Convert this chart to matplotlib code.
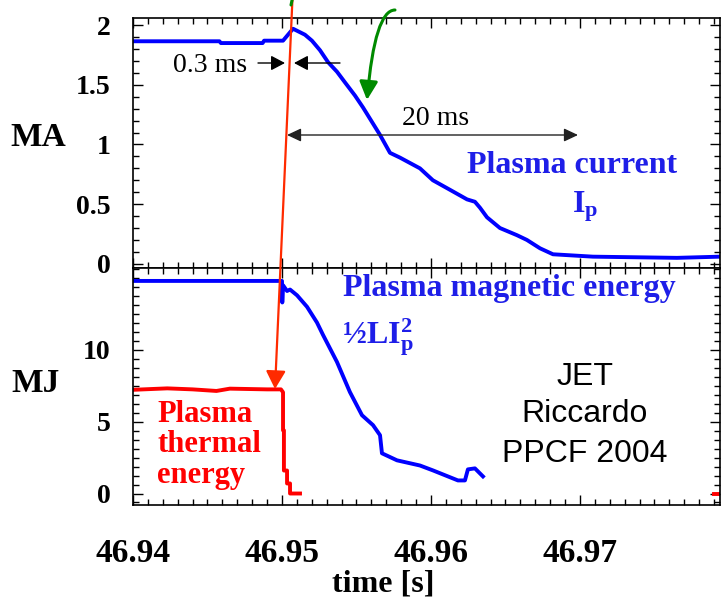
import matplotlib
matplotlib.use("Agg")
import matplotlib.pyplot as plt
from matplotlib.patches import FancyArrowPatch
from matplotlib.ticker import MultipleLocator

W, H = 722, 606

# plasma current Ip [MA]
ip_t = [46.9400, 46.9458, 46.9459, 46.9487, 46.9488, 46.95007, 46.95074, 46.95154,
        46.95201, 46.95255, 46.95309, 46.95369, 46.95423, 46.95490, 46.95544, 46.95658,
        46.95725, 46.95792, 46.95926, 46.96013, 46.96128, 46.96242, 46.96295, 46.96329,
        46.96376, 46.96463, 46.96577, 46.96644, 46.96732, 46.96819, 46.96953, 46.97087,
        46.97651, 46.97940]
ip = [1.865, 1.865, 1.85, 1.85, 1.87, 1.87, 1.97, 1.92,
      1.87, 1.79, 1.69, 1.61, 1.52, 1.41, 1.31, 1.08,
      0.93, 0.89, 0.80, 0.70, 0.62, 0.54, 0.52, 0.47,
      0.39, 0.30, 0.24, 0.20, 0.13, 0.08, 0.07, 0.06,
      0.05, 0.06]

# plasma magnetic energy [MJ]
wm_t = [46.9400, 46.9500, 46.95002, 46.95007, 46.95034, 46.95054, 46.95101, 46.95168,
        46.95235, 46.95275, 46.95369, 46.95456, 46.95537, 46.95611, 46.95658, 46.95671,
        46.95772, 46.95926, 46.96013, 46.96181, 46.96228, 46.96248, 46.96295, 46.96349]
wm = [14.8, 14.8, 13.3, 14.5, 14.1, 14.2, 13.8, 13.0,
      11.9, 11.05, 9.16, 7.06, 5.45, 4.76, 4.06, 2.80,
      2.31, 1.95, 1.61, 0.91, 0.91, 1.68, 1.75, 1.19]

# plasma thermal energy [MJ]
wth_t = [46.9400, 46.9423, 46.9440, 46.9456, 46.9465, 46.9490, 46.94993, 46.95007,
         46.95007, 46.95013, 46.95013, 46.95034, 46.95034, 46.95054, 46.95054, 46.95121]
wth = [7.22, 7.32, 7.25, 7.14, 7.30, 7.25, 7.25, 7.05,
       4.40, 4.40, 1.60, 1.60, 0.70, 0.70, 0.00, 0.00]
wth_end_t = [46.9790, 46.9794]
wth_end = [0.0, 0.0]

x_ticks = [46.94, 46.95, 46.96, 46.97]
x_labels = ["46.94", "46.95", "46.96", "46.97"]
ma_ticks = [0, 0.5, 1, 1.5, 2]
ma_labels = ["0", "0.5", "1", "1.5", "2"]
mj_ticks = [0, 5, 10]
mj_labels = ["0", "5", "10"]

plt.rcParams["font.family"] = ["Liberation Serif", "DejaVu Serif"]
plt.rcParams["mathtext.fontset"] = "custom"
plt.rcParams["mathtext.rm"] = "Liberation Serif:bold"
plt.rcParams["mathtext.it"] = "Liberation Serif:bold"
plt.rcParams["mathtext.bf"] = "Liberation Serif:bold"

BLUE = "#0000ff"
TBLUE = "#1e1ee8"
RED = "#ff0000"


def P(x, y):
    # figure pixel (from top-left) -> figure fraction
    return (x / W, 1 - y / H)


fig = plt.figure(figsize=(W / 100, H / 100), dpi=100)
ax1 = fig.add_axes([133 / W, 1 - 268 / H, 587 / W, 250 / H])
ax2 = fig.add_axes([133 / W, 1 - 505 / H, 587 / W, 237 / H], sharex=ax1)

ax1.plot(ip_t, ip, color=BLUE, lw=2.8)
ax2.plot(wm_t, wm, color=BLUE, lw=2.8)
ax2.plot(wth_t, wth, color=RED, lw=2.8)
ax2.plot(wth_end_t, wth_end, color=RED, lw=2.8)

ax1.set_xlim(46.94, 46.9794)
ax1.set_ylim(-0.035, 2.06)
ax2.set_ylim(-0.8, 15.7)

for ax in (ax1, ax2):
    for s in ax.spines.values():
        s.set_linewidth(1.2)
    ax.tick_params(which="both", direction="in", top=True, right=True, width=1.0)
    ax.tick_params(which="major", length=7)
    ax.tick_params(which="minor", length=4)
    ax.xaxis.set_minor_locator(MultipleLocator(0.001))

ax1.set_yticks(ma_ticks, ma_labels)
ax1.yaxis.set_minor_locator(MultipleLocator(0.1))
ax2.set_yticks(mj_ticks, mj_labels)
ax2.yaxis.set_minor_locator(MultipleLocator(0.625))
ax1.set_xticks(x_ticks)
ax1.tick_params(axis="x", labelbottom=False)
ax2.set_xticks(x_ticks, x_labels)

for lab in ax1.get_yticklabels() + ax2.get_yticklabels():
    lab.set_fontsize(20)
    lab.set_fontweight("bold")
for lab in ax2.get_xticklabels():
    lab.set_fontsize(24)
    lab.set_fontweight("bold")
ax1.tick_params(axis="y", pad=16)
ax2.tick_params(axis="y", pad=16)
ax2.tick_params(axis="x", pad=24)

bold = dict(fontweight="bold", fontsize=24)
fig.text(*P(38, 138), "MA", ha="center", va="center", **bold)
fig.text(*P(36, 383), "MJ", ha="center", va="center", **bold)
fig.text(*P(383, 570), "time [s]", ha="center", va="top", fontweight="bold", fontsize=23)

# labels inside the panels
lab = dict(fontweight="bold", fontsize=23, color=TBLUE)
fig.text(*P(572, 173), "Plasma current", ha="center", va="baseline", **lab)
fig.text(*P(585, 213), "I$_\\mathrm{p}$", ha="center", va="baseline", **lab)
fig.text(*P(343, 296), "Plasma magnetic energy", ha="left", va="baseline", **lab)
fig.text(*P(342, 343), "½LI$_\\mathrm{p}^\\mathrm{2}$", ha="left", va="baseline", **lab)

red = dict(fontweight="bold", fontsize=22, color=RED, ha="left", va="baseline")
fig.text(*P(157, 422), "Plasma", **red)
fig.text(*P(157, 452), "thermal", **red)
fig.text(*P(157, 483), "energy", **red)

sans = dict(fontsize=23, family=["Liberation Sans", "DejaVu Sans"], ha="center", va="baseline")
fig.text(*P(585, 385), "JET", **sans)
fig.text(*P(585, 422), "Riccardo", **sans)
fig.text(*P(585, 462), "PPCF 2004", **sans)

fig.text(*P(173, 72), "0.3 ms", ha="left", va="baseline", fontsize=20)
fig.text(*P(402, 125), "20 ms", ha="left", va="baseline", fontsize=20)


def arrow(a, b, style, color, lw, **kw):
    p = FancyArrowPatch(P(*a), P(*b), transform=fig.transFigure, arrowstyle=style,
                        color=color, lw=lw, shrinkA=0, shrinkB=0, **kw)
    fig.add_artist(p)


head = "-|>,head_length=8.5,head_width=4.5"
arrow((258, 63), (285, 63), head, "black", 1.0)
arrow((340, 63), (294, 63), head, "black", 1.0)
arrow((287, 135), (578, 135), "<|-|>,head_length=8.5,head_width=4", "#222222", 1.0)

arrow((292.5, -2), (275, 389), "-|>,head_length=11,head_width=6", "#ff2a00", 1.6)
arrow((395, 10), (367, 100), "-|>,head_length=11,head_width=5.5", "#008a00", 2.2,
      connectionstyle="angle3,angleA=180,angleB=85")
arrow((291, 5), (292.5, -2), "-", "#008a00", 2.2)

fig.savefig("out.png", dpi=100)
